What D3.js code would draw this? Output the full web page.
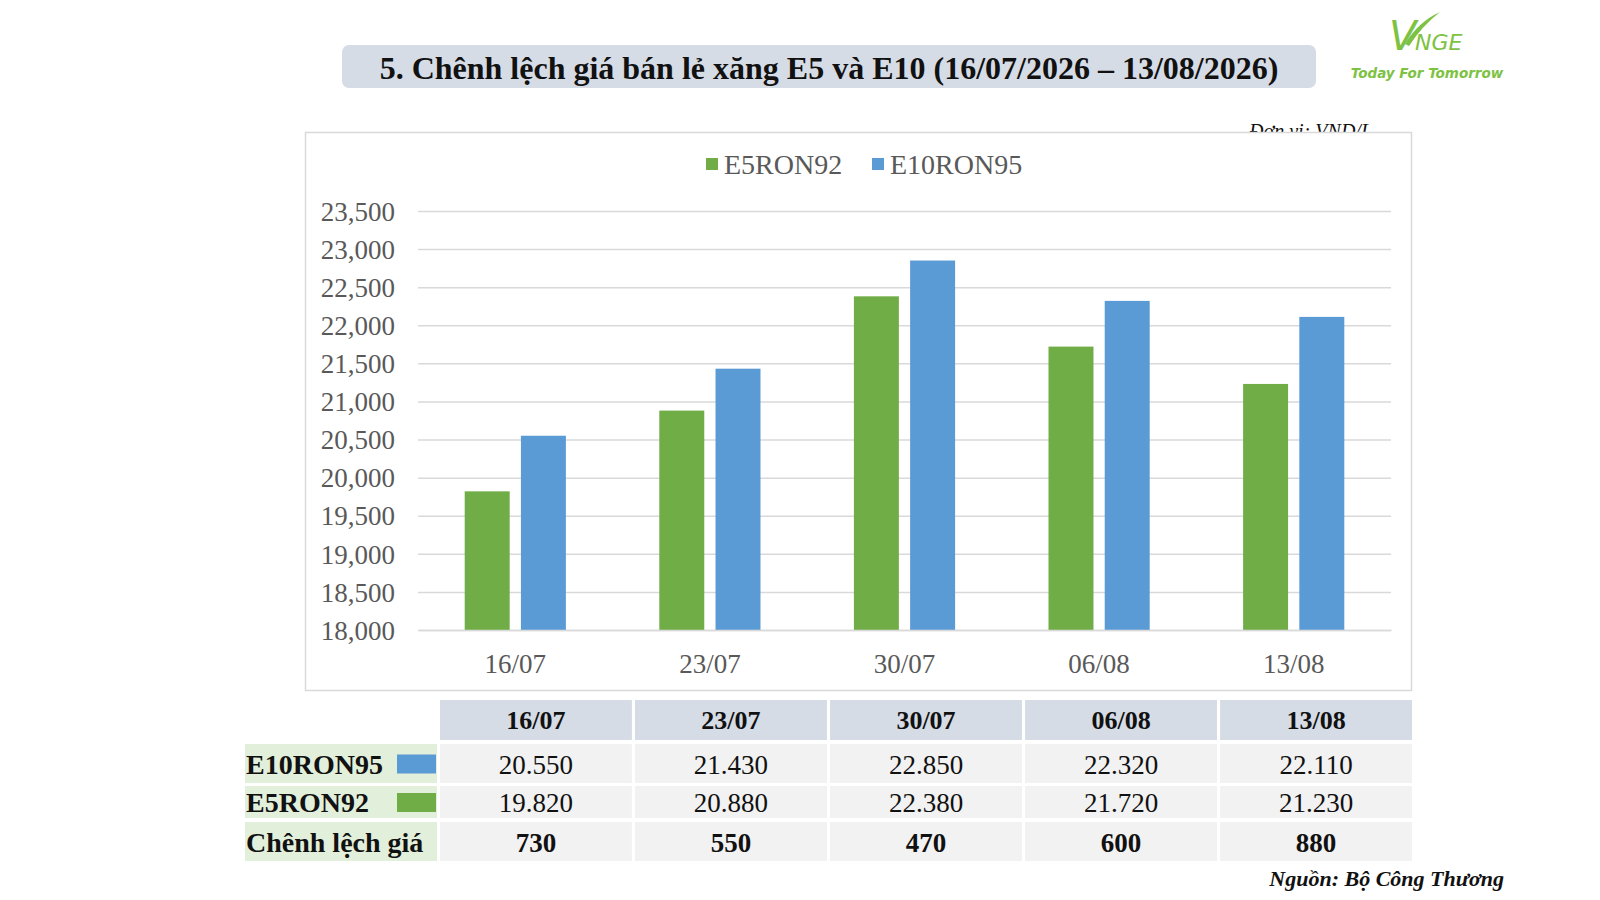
<!DOCTYPE html>
<html>
<head>
<meta charset="utf-8">
<script src="https://cdn.jsdelivr.net/npm/d3@7"></script>
<style>
  html, body { margin: 0; padding: 0; background: #fff; }
  svg { display: block; }
</style>
</head>
<body>
<svg id="chart" width="1600" height="900"></svg>
<script>
// data
const dates = ['16/07', '23/07', '30/07', '06/08', '13/08'];
const seriesNames = ['E5RON92', 'E10RON95'];
const e5ron92 = [19820, 20880, 22380, 21720, 21230];
const e10ron95 = [20550, 21430, 22850, 22320, 22110];
const yTicks = [18000, 18500, 19000, 19500, 20000, 20500, 21000, 21500, 22000, 22500, 23000, 23500];
const tableRows = ['E10RON95', 'E5RON92', 'Chênh lệch giá'];

const colors = { E5RON92: '#70ad47', E10RON95: '#5b9bd5' };
const serif = '"Liberation Serif", "DejaVu Serif", serif';
const axisGrey = '#595959';

const svg = d3.select('#chart');

// title box
svg.append('rect')
  .attr('x', 342).attr('y', 45).attr('width', 974).attr('height', 43)
  .attr('rx', 7).attr('fill', '#d6dce5');
svg.append('text')
  .attr('x', 829).attr('y', 79).attr('text-anchor', 'middle')
  .attr('font-family', serif).attr('font-weight', 'bold').attr('font-size', 32)
  .attr('fill', '#111')
  .text('5. Chênh lệch giá bán lẻ xăng E5 và E10 (16/07/2026 – 13/08/2026)');

// logo
const logo = svg.append('g').attr('fill', '#7dc242');
logo.append('text')
  .attr('x', 1389).attr('y', 50)
  .attr('font-family', '"DejaVu Sans", sans-serif').attr('font-style', 'italic')
  .attr('font-size', 40).text('V');
logo.append('path')
  .attr('d', 'M1405,44 Q1418,22 1440,12 Q1422,26 1409,46 Z');
logo.append('text')
  .attr('x', 1415).attr('y', 50)
  .attr('font-family', '"DejaVu Sans", sans-serif').attr('font-style', 'italic')
  .attr('font-size', 22).text('NGE');
logo.append('text')
  .attr('x', 1427).attr('y', 78).attr('text-anchor', 'middle')
  .attr('font-family', '"DejaVu Sans", sans-serif').attr('font-style', 'italic')
  .attr('font-weight', 'bold').attr('font-size', 13.5).text('Today For Tomorrow');

// unit label (partly hidden by chart box)
svg.append('text')
  .attr('x', 1372).attr('y', 138).attr('text-anchor', 'end')
  .attr('font-family', serif).attr('font-style', 'italic').attr('font-size', 20)
  .attr('fill', '#111').text('Đơn vị: VND/L');

// chart box
svg.append('rect')
  .attr('x', 305.5).attr('y', 132.5).attr('width', 1106).attr('height', 558)
  .attr('fill', '#fff').attr('stroke', '#d9d9d9').attr('stroke-width', 1.5);

// scales
const x0 = d3.scaleBand().domain(dates).range([418, 1391]).padding(0);
const x1 = d3.scaleBand().domain(seriesNames)
  .range([x0.bandwidth() * 0.24, x0.bandwidth() * 0.76]).paddingInner(0.2);
const y = d3.scaleLinear().domain([18000, 23500]).range([630, 211]);

// grid + y labels
const yAxis = svg.append('g').attr('transform', 'translate(418,0)')
  .call(d3.axisLeft(y).tickValues(yTicks).tickSize(-973).tickPadding(23)
    .tickFormat(d3.format(',')));
yAxis.select('.domain').remove();
yAxis.selectAll('line').attr('stroke', '#d9d9d9').attr('stroke-width', 1.5);
yAxis.selectAll('text')
  .attr('font-family', serif).attr('font-size', 27).attr('fill', axisGrey)
  .attr('dy', '0.34em');

// bars
const values = { E5RON92: e5ron92, E10RON95: e10ron95 };
const groups = svg.append('g').selectAll('g')
  .data(dates).join('g')
  .attr('transform', d => `translate(${x0(d)},0)`);
groups.selectAll('rect')
  .data((d, i) => seriesNames.map(s => ({ s, v: values[s][i] })))
  .join('rect')
  .attr('x', d => x1(d.s))
  .attr('width', x1.bandwidth())
  .attr('y', d => y(d.v))
  .attr('height', d => y(18000) - y(d.v))
  .attr('fill', d => colors[d.s]);

// x axis labels
const xAxis = svg.append('g').attr('transform', 'translate(0,630)')
  .call(d3.axisBottom(x0).tickSize(0).tickPadding(24));
xAxis.select('.domain').attr('stroke', '#d9d9d9').attr('stroke-width', 1.5);
xAxis.selectAll('text')
  .attr('font-family', serif).attr('font-size', 27).attr('fill', axisGrey);

// legend
const legend = svg.append('g').attr('transform', 'translate(706,0)');
const legX = { E5RON92: 0, E10RON95: 166 };
seriesNames.forEach(s => {
  legend.append('rect')
    .attr('x', legX[s]).attr('y', 158).attr('width', 12).attr('height', 12)
    .attr('fill', colors[s]);
  legend.append('text')
    .attr('x', legX[s] + 18).attr('y', 174)
    .attr('font-family', serif).attr('font-size', 28).attr('fill', axisGrey)
    .text(s);
});

// table
const thousandsDot = d3.formatLocale({ decimal: ',', thousands: '.', grouping: [3], currency: ['', ''] }).format(',');
const diffs = e10ron95.map((v, i) => v - e5ron92[i]);
const tx = d3.scaleBand().domain(dates).range([440, 1412]).paddingInner(0.016);
const rowTop = [744, 786, 822];
const rowH = [39, 32, 39];
const table = svg.append('g');

table.selectAll('rect.head').data(dates).join('rect').attr('class', 'head')
  .attr('x', d => tx(d)).attr('y', 700).attr('width', tx.bandwidth()).attr('height', 40)
  .attr('fill', '#d6dce5');
table.selectAll('text.head').data(dates).join('text').attr('class', 'head')
  .attr('x', d => tx(d) + tx.bandwidth() / 2).attr('y', 729)
  .attr('text-anchor', 'middle').attr('font-family', serif).attr('font-weight', 'bold')
  .attr('font-size', 26).attr('fill', '#111').text(d => d);

const rowValues = [e10ron95, e5ron92, diffs];
tableRows.forEach((name, r) => {
  table.append('rect')
    .attr('x', 245).attr('y', rowTop[r]).attr('width', 192).attr('height', rowH[r])
    .attr('fill', '#e2efda');
  table.append('text')
    .attr('x', 246).attr('y', rowTop[r] + rowH[r] / 2 + 10)
    .attr('font-family', serif).attr('font-weight', 'bold').attr('font-size', 28)
    .attr('fill', '#111').text(name);
  if (colors[name]) {
    table.append('rect')
      .attr('x', 397).attr('y', rowTop[r] + rowH[r] / 2 - 9).attr('width', 39).attr('height', 19)
      .attr('fill', colors[name]);
  }
  table.selectAll(null).data(dates).join('rect')
    .attr('x', d => tx(d)).attr('y', rowTop[r]).attr('width', tx.bandwidth()).attr('height', rowH[r])
    .attr('fill', '#f2f2f2');
  table.selectAll(null).data(rowValues[r]).join('text')
    .attr('x', (d, i) => tx(dates[i]) + tx.bandwidth() / 2).attr('y', rowTop[r] + rowH[r] / 2 + 10)
    .attr('text-anchor', 'middle').attr('font-family', serif).attr('font-size', 27)
    .attr('font-weight', r === 2 ? 'bold' : 'normal').attr('fill', '#111')
    .text(d => thousandsDot(d));
});

// source
svg.append('text')
  .attr('x', 1504).attr('y', 886).attr('text-anchor', 'end')
  .attr('font-family', serif).attr('font-style', 'italic').attr('font-weight', 'bold')
  .attr('font-size', 22).attr('fill', '#111').text('Nguồn: Bộ Công Thương');
</script>
</body>
</html>
